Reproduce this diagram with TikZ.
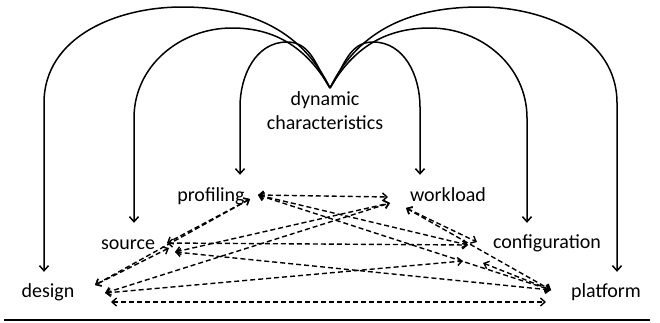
\documentclass[tikz,border=0pt]{standalone}
\usepackage{fontspec}
\setmainfont{Carlito}
\usetikzlibrary{arrows.meta}
\tikzstyle{term} = [font=\fontsize{20}{23.5}\selectfont, inner sep=2pt, text height=14pt, text depth=4pt, anchor=base]
\tikzstyle{arc} = [draw, line width=1.5pt, -{Straight Barb[length=5pt,width=9pt]}]
\tikzstyle{link} = [draw, line width=1.4pt, dash pattern=on 5pt off 3pt, {Straight Barb[length=4.5pt,width=8pt]}-{Straight Barb[length=4.5pt,width=8pt]}]

\begin{document}
\begin{tikzpicture}[x=1pt, y=1pt]
    \useasboundingbox (0,0) rectangle (660,-322);

    % Nodes
    \node [term] (design) at (48,-297) {design};
    \node [term] (source) at (128,-249) {source};
    \node [term] (profiling) at (211,-201) {profiling};
    \node [term] (workload) at (448,-201) {workload};
    \node [term] (config) at (547,-248) {configuration};
    \node [term] (platform) at (606,-297) {platform};
    \node [term, anchor=center, align=center, text height=, text depth=] (dyn) at (325,-110.5) {dynamic\\characteristics};

    % Ports
    \coordinate (fork) at (330,-88);
    \coordinate (pl) at (250,-199);
    \coordinate (pr) at (258,-195);
    \coordinate (su) at (167,-243);
    \coordinate (sl) at (169,-248);
    \coordinate (sd) at (175,-252);
    \coordinate (du) at (95,-285);
    \coordinate (dm) at (105,-293);
    \coordinate (db) at (111,-302);
    \coordinate (wl) at (388,-197);
    \coordinate (wm) at (390,-203);
    \coordinate (wr) at (406,-208);
    \coordinate (cl) at (468,-245);
    \coordinate (cu) at (477,-242);
    \coordinate (cd) at (463,-261);
    \coordinate (cr) at (483,-263);
    \coordinate (fm) at (551,-290);
    \coordinate (fb) at (546,-302);

    % Arcs
    \path [arc] (fork) to[out=116,in=0] (182,-7) to[out=180,in=90] (44,-103) -- ([shift={(-4,9)}]design.north);
    \path [arc] (fork) to[out=120,in=0] (232,-28) to[out=180,in=90] (134,-118) -- ([shift={(6,10)}]source.north);
    \path [arc] (fork) to[out=124,in=0] (287,-42) to[out=180,in=90] (240,-107) -- ([shift={(29,10)}]profiling.north);
    \path [arc] (fork) to[out=56,in=180] (373,-42) to[out=0,in=90] (420,-107) -- ([shift={(-28,10)}]workload.north);
    \path [arc] (fork) to[out=60,in=180] (430,-28) to[out=0,in=90] (527,-118) -- ([shift={(-20,9)}]config.north);
    \path [arc] (fork) to[out=64,in=180] (480,-7) to[out=0,in=90] (617,-103) -- ([shift={(11,9)}]platform.north);

    % Lines
    \path [link] (pr) -- (wl);
    \path [link] (pl) -- (su);
    \path [link] (pl) -- (du);
    \path [link] (pr) -- (cl);
    \path [link] (pr) -- (fm);
    \path [link] (su) -- (cl);
    \path [link] (sd) -- (wm);
    \path [link] (sd) -- (fm);
    \path [link] (sl) -- (du);
    \path [link] (dm) -- (wm);
    \path [link] (dm) -- (cd);
    \path [link] (db) -- (fb);
    \path [link] (wr) -- (cu);
    \path [link] (wr) -- (fm);
    \path [link] (cr) -- (fm);

    \draw [line width=1.4pt] (4,-320) -- (650,-320);
\end{tikzpicture}
\end{document}
